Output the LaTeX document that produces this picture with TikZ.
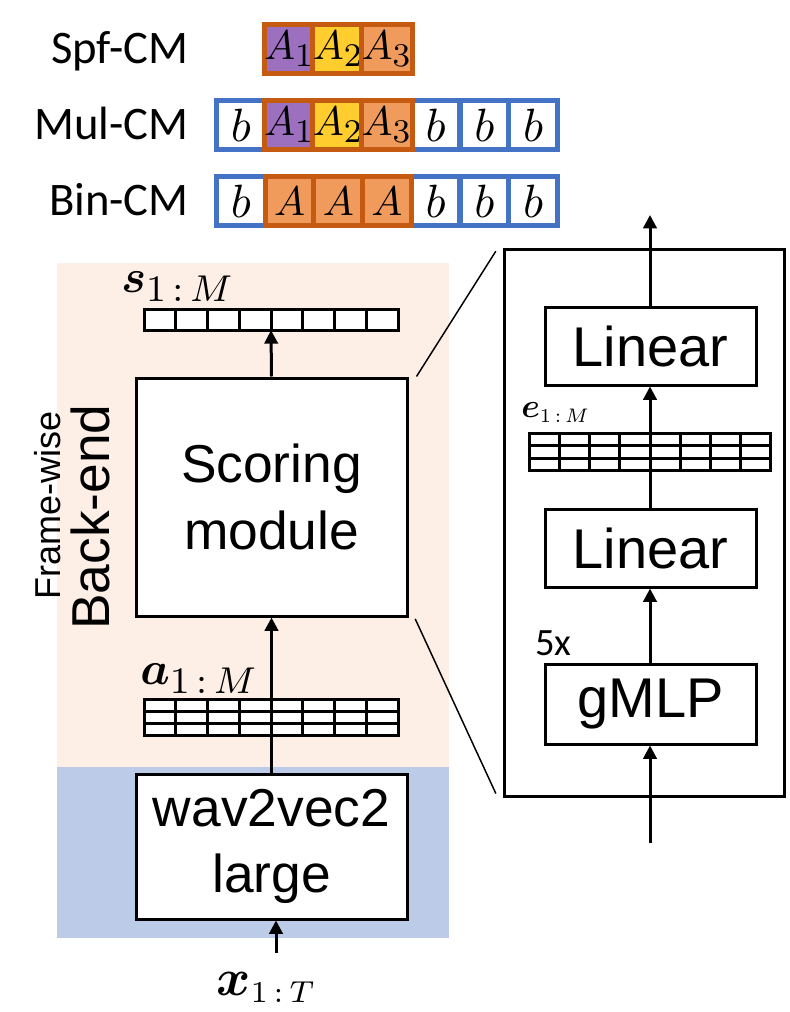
\RequirePackage{fix-cm}
\documentclass[tikz,border=0pt]{standalone}
\usepackage{amsmath}
\usepackage{graphicx}
\usepackage{fontspec}
\newfontfamily\arial{Liberation Sans}
\newfontfamily\calib{Carlito}
\usetikzlibrary{arrows.meta}
\DeclareMathSizes{10}{10}{8}{6}
\DeclareMathSizes{12}{12}{7}{5}
\newcommand\cellmath[1]{\scalebox{3.1}{\fontsize{10}{10}\selectfont$#1$}}
\newcommand\bmath[1]{\scalebox{3.5}{\fontsize{10}{10}\selectfont$#1$}}
\newcommand\vecmath[1]{\scalebox{3.5}{\fontsize{10}{10}\selectfont$#1$}}
\newcommand\inmath[2]{\scalebox{#1}{\fontsize{12}{12}\selectfont$#2$}}
\definecolor{peach}{HTML}{FDEFE6}
\definecolor{bgblue}{HTML}{BCCCE8}
\definecolor{cmpurple}{HTML}{9C6FBF}
\definecolor{cmyellow}{HTML}{FFCD2E}
\definecolor{cmorange}{HTML}{F09B5C}
\definecolor{cmdark}{HTML}{C55A11}
\definecolor{cmblue}{HTML}{4472C4}
\begin{document}
\begin{tikzpicture}[x=0.75pt,y=-0.75pt,
  box/.style={draw, line width=2.25pt, fill=white, inner sep=0pt, align=center,
    font=\arial\fontsize{40}{50}\selectfont},
  sbox/.style={box, minimum width=158.25pt, font=\arial\fontsize{42}{50}\selectfont},
  arr/.style={line width=2.25pt, -{Triangle[length=10pt,width=10pt]}},
  vec/.style={line width=2.25pt},
  zoomline/.style={line width=1.1pt},
  cmlabel/.style={anchor=base east, inner sep=0pt, font=\calib\fontsize{35}{38}\selectfont},
  cmcell/.style={line width=3.75pt, minimum width=36.5pt, minimum height=36.75pt, inner sep=0pt},
  bcell/.style={cmcell, draw=cmblue, fill=white},
  acell/.style={cmcell, draw=cmdark},
  mlabel/.style={inner sep=0pt, anchor=base west},
]
\useasboundingbox (0,0) rectangle (789,1012);

% ---------- CM rows ----------
\node[cmlabel] (lspf) at (189,64) {Spf-CM};
\node[cmlabel] (lmul) at (189,140) {Mul-CM};
\node[cmlabel] (lbin) at (189,216) {Bin-CM};

% Mul-CM
\foreach \i/\t in {1/b,5/b,6/b,7/b}{
  \node[bcell] (m\i) at ({240.85+48.7*(\i-1)},125) {\bmath{\t}};
}
\node[acell, fill=cmpurple] (m2) at ({240.85+48.7},125) {\cellmath{A_1}};
\node[acell, fill=cmyellow] (m3) at ({240.85+48.7*2},125) {\cellmath{A_2}};
\node[acell, fill=cmorange] (m4) at ({240.85+48.7*3},125) {\cellmath{A_3}};

% Bin-CM
\foreach \i/\t in {1/b,5/b,6/b,7/b}{
  \node[bcell] (b\i) at ({240.85+48.7*(\i-1)},201) {\bmath{\t}};
}
\foreach \i in {2,3,4}{
  \node[acell, fill=cmorange] (b\i) at ({240.85+48.7*(\i-1)},201) {\cellmath{A}};
}

% Spf-CM
\node[acell, fill=cmpurple] (s1) at ({240.85+48.7},49) {\cellmath{A_1}};
\node[acell, fill=cmyellow] (s2) at ({240.85+48.7*2},49) {\cellmath{A_2}};
\node[acell, fill=cmorange] (s3) at ({240.85+48.7*3},49) {\cellmath{A_3}};

% ---------- backgrounds ----------
\fill[peach] (57,263) rectangle (449,767);
\fill[bgblue] (57,767) rectangle (449,938);

\node[rotate=90, inner sep=0pt, font=\arial\fontsize{27}{27}\selectfont] (fw) at (48,505) {Frame-wise};
\node[rotate=90, inner sep=0pt, font=\arial\fontsize{40}{40}\selectfont] (be) at (90,517) {Back-end};

% ---------- left column ----------
\node[box, minimum width=203.25pt, minimum height=178.5pt] (score) at (271.5,497) {Scoring\\module};
\node[box, minimum width=203.25pt, minimum height=108.75pt] (wav) at (271.5,846.5) {wav2vec2\\large};

% s vector
\node[inner sep=0pt, minimum width=190.5pt, minimum height=15.75pt] (svec) at (271,319.5) {};
\draw[vec, fill=white] (144,309) rectangle (398,330);
\foreach \k in {1,...,7}{ \draw[vec] ({144+31.75*\k},309) -- ({144+31.75*\k},330); }
\node[mlabel] (slab) at (121,292) {\vecmath{\boldsymbol{s}_{1\,:\,M}}};

% a matrix
\node[inner sep=0pt, minimum width=190.5pt, minimum height=27pt] (avec) at (271,717) {};
\draw[vec, fill=white] (144,699) rectangle (398,735);
\foreach \k in {1,...,7}{ \draw[vec] ({144+31.75*\k},699) -- ({144+31.75*\k},735); }
\draw[vec] (144,711) -- (398,711) (144,723) -- (398,723);
\node[mlabel] (alab) at (140,684) {\vecmath{\boldsymbol{a}_{1\,:\,M}}};

\node[mlabel] (xlab) at (216,995) {\inmath{3.25}{\boldsymbol{x}_{1\,:\,T}}};
\coordinate (xin) at (276,953);

\draw[arr] (score.north) -- (svec.south);
\draw[arr] (wav.north) -- (score.south);
\draw[arr] (xin) -- (xin |- wav.south);

% ---------- right panel ----------
\node[draw, line width=2.25pt, inner sep=0pt, minimum width=210pt, minimum height=409.5pt] (panel) at (644,523) {};
\node[sbox, minimum height=58.5pt] (lin1) at (650.5,346) {Linear};
\node[sbox, minimum height=58.5pt] (lin2) at (650.5,548) {Linear};
\node[sbox, minimum height=60pt] (gmlp) at (650.5,704) {gMLP};

\node[inner sep=0pt, minimum width=180.75pt, minimum height=27.75pt] (evec) at (650,452) {};
\draw[vec, fill=white] (529.5,433.5) rectangle (770.5,470.5);
\foreach \k in {1,...,7}{ \draw[vec] ({529.5+30.125*\k},433.5) -- ({529.5+30.125*\k},470.5); }
\draw[vec] (529.5,445.8) -- (770.5,445.8) (529.5,458.2) -- (770.5,458.2);
\node[mlabel] (elab) at (521,417) {\inmath{2.1}{\boldsymbol{e}_{1\,:\,M}}};

\node[mlabel, font=\calib\fontsize{29}{29}\selectfont] (rep) at (535,655) {5x};

\coordinate (outtop) at (650,215);
\coordinate (inbot) at (650,843);
\draw[arr] (lin1.north -| outtop) -- (outtop);
\draw[arr] (lin2.north -| outtop) -- (lin1.south -| outtop);
\draw[arr] (gmlp.north -| outtop) -- (lin2.south -| outtop);
\draw[arr] (inbot) -- (gmlp.south -| inbot);

% zoom lines
\draw[zoomline] ([xshift=6pt]score.north east) -- ([xshift=-5pt,yshift=-2pt]panel.north west);
\draw[zoomline] ([xshift=5pt,yshift=-1pt]score.south east) -- ([xshift=-5pt,yshift=3pt]panel.south west);
\end{tikzpicture}
\end{document}
